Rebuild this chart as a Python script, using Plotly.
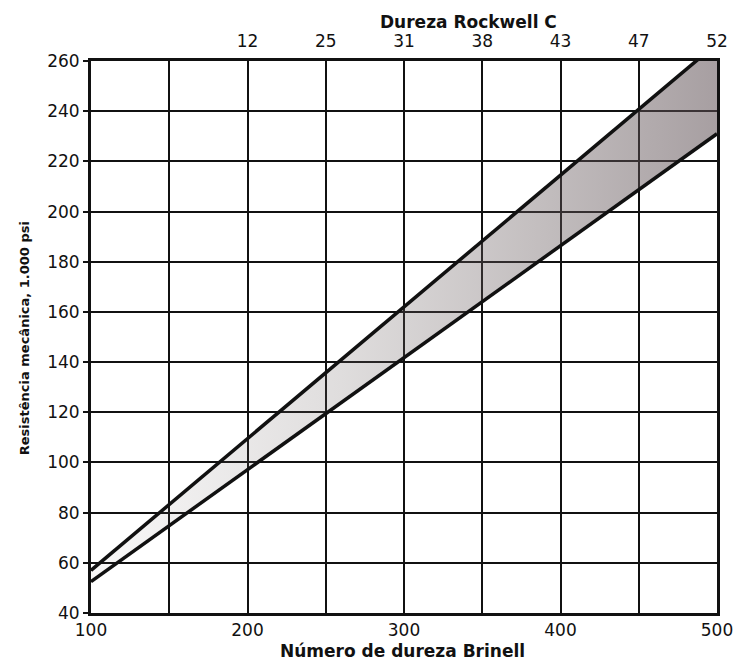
import plotly.graph_objects as go

# --- data ---
brinell_ticks = [100, 150, 200, 250, 300, 350, 400, 450, 500]
brinell_labels = ["100", "", "200", "", "300", "", "400", "", "500"]
rockwell_pos = [200, 250, 300, 350, 400, 450, 500]
rockwell_labels = ["12", "25", "31", "38", "43", "47", "52"]
strength_ticks = [40, 60, 80, 100, 120, 140, 160, 180, 200, 220, 240, 260]

upper_x = [100, 500]
upper_y = [57, 267]
lower_x = [100, 500]
lower_y = [52.5, 231]

fig = go.Figure()

# shaded band between the two limit lines
band_x = upper_x + lower_x[::-1] + [upper_x[0]]
band_y = upper_y + lower_y[::-1] + [upper_y[0]]
fig.add_trace(go.Scatter(
    x=band_x, y=band_y, mode="lines", line=dict(width=0),
    fill="toself",
    fillgradient=dict(type="horizontal",
                      colorscale=[[0, "rgba(120,110,110,0.05)"],
                                  [0.4, "rgba(110,100,100,0.22)"],
                                  [1, "rgba(95,80,85,0.55)"]]),
    hoverinfo="skip", showlegend=False))

for xs, ys in [(upper_x, upper_y), (lower_x, lower_y)]:
    fig.add_trace(go.Scatter(x=xs, y=ys, mode="lines",
                             line=dict(color="#111", width=3.5),
                             hoverinfo="skip", showlegend=False))

# invisible trace to anchor the top (Rockwell C) axis
fig.add_trace(go.Scatter(x=[brinell_ticks[0], brinell_ticks[-1]],
                         y=[strength_ticks[0], strength_ticks[0]],
                         xaxis="x2", mode="markers", marker=dict(opacity=0),
                         hoverinfo="skip", showlegend=False))

FONT = "DejaVu Sans, Liberation Sans, Arial, sans-serif"
tick_font = dict(family=FONT, size=17, color="#111")

fig.update_layout(
    width=745, height=661,
    margin=dict(l=91, r=26, t=61, b=48),
    paper_bgcolor="white", plot_bgcolor="white",
    xaxis=dict(range=[100, 500], tickmode="array", tickvals=brinell_ticks,
               ticktext=brinell_labels, showgrid=True, gridcolor="#111",
               gridwidth=2, showline=True, linecolor="#111", linewidth=3,
               mirror=True, ticks="", tickfont=tick_font, zeroline=False),
    xaxis2=dict(range=[100, 500], overlaying="x", side="top", tickmode="array",
                tickvals=rockwell_pos, ticktext=rockwell_labels, showgrid=False,
                ticks="outside", ticklen=6, tickcolor="rgba(0,0,0,0)",
                tickfont=tick_font, zeroline=False, showline=False),
    yaxis=dict(range=[40, 260], tickmode="array", tickvals=strength_ticks,
               showgrid=True, gridcolor="#111", gridwidth=2, showline=True,
               linecolor="#111", linewidth=3, mirror=True, ticks="outside",
               ticklen=5, tickwidth=2, tickcolor="#111", tickfont=tick_font,
               zeroline=False),
    annotations=[
        dict(text="<b>Dureza Rockwell C</b>", xref="paper", yref="paper",
             x=(470 - 91) / 628, y=1 + (61 - 22) / 552, yanchor="middle",
             showarrow=False, font=dict(family=FONT, size=17, color="#111")),
        dict(text="<b>Número de dureza Brinell</b>", xref="paper", yref="paper",
             x=(403 - 91) / 628, y=-(651 - 613) / 552, yanchor="middle",
             showarrow=False, font=dict(family=FONT, size=17, color="#111")),
        dict(text="<b>Resistência mecânica, 1.000 psi</b>", xref="paper", yref="paper",
             x=(24 - 91) / 628, y=(613 - 338) / 552, textangle=-90, xanchor="center",
             yanchor="middle", showarrow=False,
             font=dict(family=FONT, size=13, color="#111")),
    ],
)

fig.write_html("out.html")
